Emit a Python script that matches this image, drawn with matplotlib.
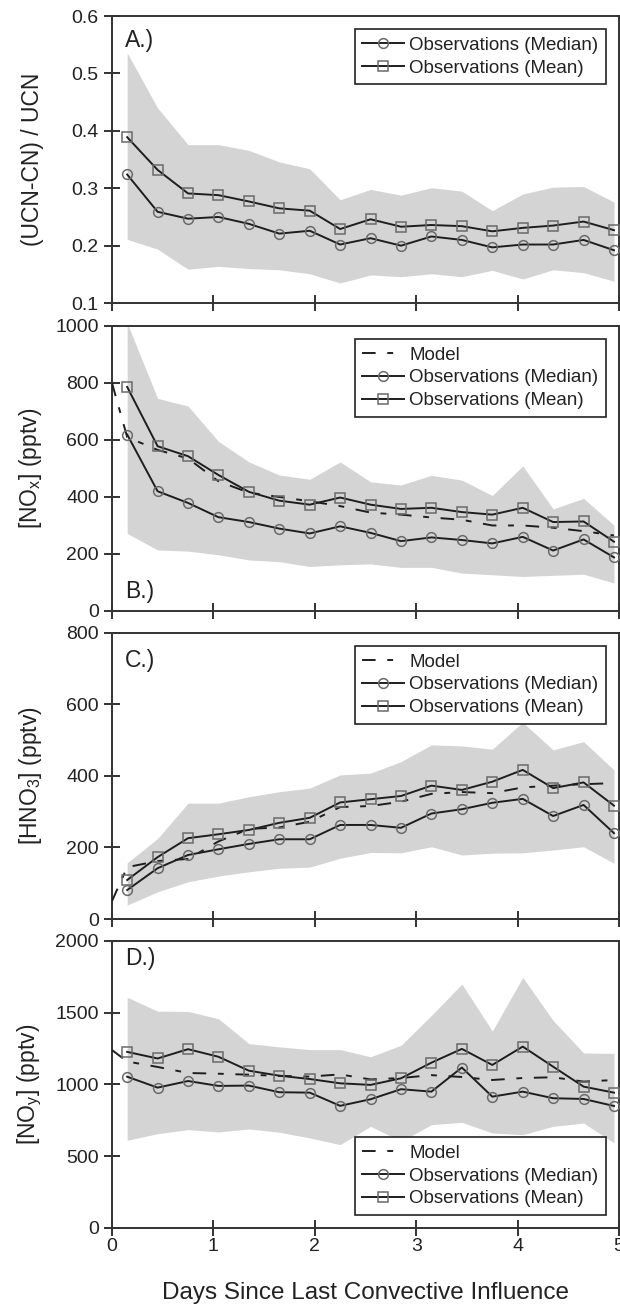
import matplotlib
matplotlib.use("Agg")
import matplotlib.pyplot as plt


# Giorni dall'ultima influenza convettiva (centri dei bin delle osservazioni)
days = [0.15, 0.45, 0.75, 1.05, 1.35, 1.65, 1.95, 2.25, 2.55, 2.85,
        3.15, 3.45, 3.75, 4.05, 4.35, 4.65, 4.95]
model_days = [0.0, 0.15, 0.45, 0.75, 1.05, 1.35, 1.65, 1.95, 2.25, 2.55,
              2.85, 3.15, 3.45, 3.75, 4.05, 4.35, 4.65, 4.95]

# A.) (UCN-CN)/UCN
a_median = [0.324, 0.259, 0.247, 0.250, 0.238, 0.221, 0.226, 0.202, 0.213,
            0.200, 0.216, 0.210, 0.197, 0.202, 0.202, 0.210, 0.192]
a_mean = [0.389, 0.332, 0.291, 0.288, 0.277, 0.265, 0.261, 0.229, 0.246,
          0.233, 0.236, 0.234, 0.225, 0.231, 0.235, 0.242, 0.227]
a_upper = [0.536, 0.440, 0.376, 0.376, 0.366, 0.346, 0.334, 0.280, 0.298,
           0.288, 0.301, 0.295, 0.261, 0.290, 0.302, 0.303, 0.276]
a_lower = [0.211, 0.194, 0.159, 0.164, 0.160, 0.158, 0.151, 0.135, 0.149,
           0.146, 0.151, 0.146, 0.157, 0.142, 0.158, 0.153, 0.138]

# B.) NOx
b_model = [800, 610, 565, 535, 455, 415, 400, 385, 368, 345, 338, 328, 320,
           300, 300, 292, 280, 265]
b_median = [619, 420, 379, 329, 312, 289, 272, 297, 274, 245, 258, 249, 237,
            260, 212, 251, 188]
b_mean = [786, 578, 543, 477, 418, 387, 373, 398, 373, 358, 362, 347, 338,
          362, 312, 314, 243]
b_upper = [1010, 746, 719, 595, 523, 477, 462, 523, 453, 442, 476, 459, 405,
           509, 358, 395, 301]
b_lower = [272, 214, 210, 197, 179, 173, 156, 162, 165, 153, 153, 133, 127,
           121, 125, 129, 98]

# C.) HNO3
c_model = [50, 145, 162, 168, 217, 252, 256, 272, 313, 316, 328, 350, 355,
           352, 368, 373, 377, 380]
c_median = [81, 142, 179, 195, 210, 223, 223, 263, 263, 255, 295, 307, 325,
            336, 288, 319, 240]
c_mean = [109, 173, 226, 237, 249, 269, 283, 326, 335, 344, 373, 361, 384,
          417, 366, 382, 317]
c_upper = [157, 225, 324, 324, 342, 356, 366, 403, 408, 440, 487, 484, 475,
           550, 473, 496, 417]
c_lower = [39, 76, 104, 120, 132, 142, 145, 170, 186, 185, 202, 179, 184,
           185, 193, 202, 156]

# D.) NOy
d_model = [1240, 1160, 1122, 1080, 1075, 1068, 1060, 1055, 1070, 1035, 1045,
           1065, 1052, 1031, 1045, 1050, 1020, 1031]
d_median = [1054, 978, 1024, 990, 992, 946, 943, 851, 897, 967, 950, 1118,
            915, 950, 904, 899, 850]
d_mean = [1227, 1181, 1246, 1193, 1096, 1061, 1038, 1008, 997, 1043, 1152,
          1248, 1136, 1264, 1124, 985, 943]
d_upper = [1608, 1511, 1509, 1458, 1285, 1262, 1243, 1243, 1193, 1273, 1481,
           1700, 1372, 1746, 1446, 1220, 1216]
d_lower = [611, 657, 685, 669, 690, 667, 627, 581, 708, 604, 720, 736, 662,
           650, 708, 731, 593]

x_ticks = [0, 1, 2, 3, 4, 5]

plt.rcParams["font.family"] = ["Liberation Sans", "DejaVu Sans"]
plt.rcParams["text.color"] = "#222222"
plt.rcParams["axes.labelcolor"] = "#222222"
plt.rcParams["xtick.color"] = "#222222"
plt.rcParams["ytick.color"] = "#222222"

LINE = "#1e1e1e"
MARKER_EDGE = "#6a6a6a"
FILL = "#d4d4d4"
# tratto lungo, spazio, tratto corto, spazio (come nella legenda originale)
MODEL_STYLE = (0, (7, 6, 3, 6))

fig = plt.figure(figsize=(6.2, 13.08), dpi=100)

# [sinistra, basso, larghezza, altezza] in frazioni della figura
positions = [
    [0.1806, 0.7683, 0.8179, 0.2194],
    [0.1806, 0.5329, 0.8179, 0.2179],
    [0.1806, 0.2974, 0.8179, 0.2187],
    [0.1806, 0.0612, 0.8179, 0.2194],
]

panels = [
    dict(label="A.)", label_pos=(0.025, 0.915), model=None,
         median=a_median, mean=a_mean, upper=a_upper, lower=a_lower,
         ylim=(0.1, 0.6), yticks=[0.1, 0.2, 0.3, 0.4, 0.5, 0.6],
         yticklabels=["0.1", "0.2", "0.3", "0.4", "0.5", "0.6"],
         ylabel="(UCN-CN) / UCN", legend_loc="upper right"),
    dict(label="B.)", label_pos=(0.025, 0.07), model=b_model,
         median=b_median, mean=b_mean, upper=b_upper, lower=b_lower,
         ylim=(0, 1000), yticks=[0, 200, 400, 600, 800, 1000],
         yticklabels=None, ylabel=r"[NO$_\mathregular{x}$] (pptv)",
         legend_loc="upper right"),
    dict(label="C.)", label_pos=(0.025, 0.905), model=c_model,
         median=c_median, mean=c_mean, upper=c_upper, lower=c_lower,
         ylim=(0, 800), yticks=[0, 200, 400, 600, 800],
         yticklabels=None, ylabel=r"[HNO$_\mathregular{3}$] (pptv)",
         legend_loc="upper right"),
    dict(label="D.)", label_pos=(0.025, 0.94), model=d_model,
         median=d_median, mean=d_mean, upper=d_upper, lower=d_lower,
         ylim=(0, 2000), yticks=[0, 500, 1000, 1500, 2000],
         yticklabels=None, ylabel=r"[NO$_\mathregular{y}$] (pptv)",
         legend_loc="lower right"),
]

for i, (pos, p) in enumerate(zip(positions, panels)):
    ax = fig.add_axes(pos)

    # Banda grigia tra i percentili
    ax.fill_between(days, p["lower"], p["upper"], color=FILL, linewidth=0,
                    zorder=1)

    if p["model"] is not None:
        ax.plot(model_days, p["model"], color=LINE, linestyle=MODEL_STYLE,
                linewidth=1.4, label="Model", zorder=3)
    ax.plot(days, p["median"], color=LINE, linewidth=1.4, marker="o",
            markersize=7, markerfacecolor="none",
            markeredgecolor=MARKER_EDGE, markeredgewidth=1.1,
            label="Observations (Median)", zorder=4)
    ax.plot(days, p["mean"], color=LINE, linewidth=1.4, marker="s",
            markersize=7, markerfacecolor="none",
            markeredgecolor=MARKER_EDGE, markeredgewidth=1.1,
            label="Observations (Mean)", zorder=4)

    ax.set_xlim(0, 5)
    ax.set_ylim(*p["ylim"])
    ax.set_xticks(x_ticks)
    ax.set_yticks(p["yticks"])
    if p["yticklabels"] is not None:
        ax.set_yticklabels(p["yticklabels"])
    ax.tick_params(direction="inout", length=11, width=1.3, labelsize=14,
                   pad=4)
    if i < 3:
        ax.tick_params(axis="x", labelbottom=False)
    else:
        ax.tick_params(axis="x", pad=2)
        ax.set_xlabel("Days Since Last Convective Influence", fontsize=17.5,
                      labelpad=19)

    for spine in ax.spines.values():
        spine.set_linewidth(1.4)
        spine.set_color("#333333")

    ax.set_ylabel(p["ylabel"], fontsize=16.5)
    ax.yaxis.set_label_coords(-0.135, 0.5)

    ax.text(p["label_pos"][0], p["label_pos"][1], p["label"],
            transform=ax.transAxes, fontsize=16.5, va="center", ha="left",
            zorder=6)

    leg = ax.legend(loc=p["legend_loc"], fontsize=13.5, frameon=True,
                    fancybox=False, framealpha=1, edgecolor="#222222",
                    borderaxespad=0.7, handlelength=2.2, handletextpad=0.3,
                    labelspacing=0.3, borderpad=0.4)
    leg.get_frame().set_linewidth(1.2)
    leg.set_zorder(10)

fig.savefig("out.png", dpi=100)
